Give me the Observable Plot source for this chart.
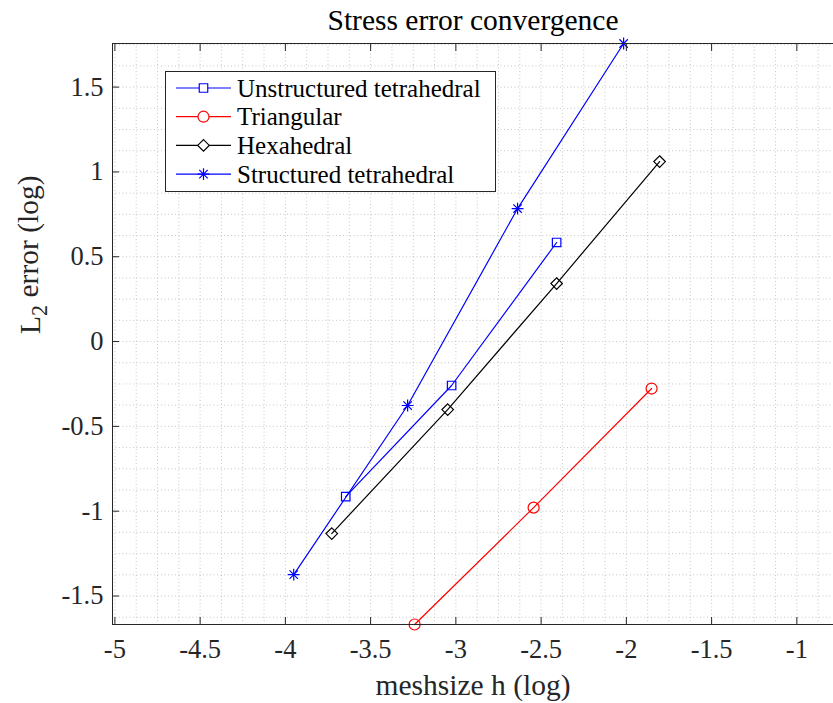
<!DOCTYPE html>
<html><head><meta charset="utf-8">
<script src="https://cdn.jsdelivr.net/npm/d3@7"></script>
<script src="https://cdn.jsdelivr.net/npm/@observablehq/plot@0.6"></script>
<style>body{margin:0;background:#fff} #chart{width:833px;height:703px}</style>
</head><body><div id="chart"></div>
<script>
// ---- data ----
const seriesNames = ["Unstructured tetrahedral", "Triangular", "Hexahedral", "Structured tetrahedral"];
const unstructuredX = [-3.646, -3.025, -2.409];
const unstructuredY = [-0.914, -0.259, 0.584];
const triangularX = [-3.242, -2.544, -1.852];
const triangularY = [-1.668, -0.979, -0.277];
const hexahedralX = [-3.728, -3.048, -2.409, -1.805];
const hexahedralY = [-1.132, -0.401, 0.342, 1.061];
const structuredX = [-3.951, -3.283, -2.638, -2.016];
const structuredY = [-1.374, -0.377, 0.784, 1.757];
const xTicks = [-5, -4.5, -4, -3.5, -3, -2.5, -2, -1.5, -1];
const yTicks = [-1.5, -1, -0.5, 0, 0.5, 1, 1.5];
const titleText = "Stress error convergence";
const xLabelText = "meshsize h (log)";
const yLabelText = "L₂ error (log)";

// ---- styles ----
const styles = [
  {color: "#0000ff", symbols: ["square2"], r: 5.4},
  {color: "#ff0000", symbols: ["circle"], r: 5.5},
  {color: "#000000", symbols: ["diamond2"], r: 5.2},
  {color: "#0000ff", symbols: ["plus", "times"], r: 3.9}
];
const xs = [unstructuredX, triangularX, hexahedralX, structuredX];
const ys = [unstructuredY, triangularY, hexahedralY, structuredY];
const series = seriesNames.map((name, i) => xs[i].map((x, j) => ({name, x, y: ys[i][j]})));
const all = series.flat();

const xDomain = [-5.014, -0.785];
const yDomain = d3.extent(all, d => d.y);
const xMinor = d3.range(-5, -0.78, 0.125);
const yMinor = d3.range(-1.625, 1.76, 0.125);
const fmt = d => String(d);
const font = "Liberation Serif";
const axisColor = "#262626";

const marks = [
  Plot.gridX(xMinor, {stroke: "#9a9a9a", strokeOpacity: 0.55, strokeDasharray: "1,2.5"}),
  Plot.gridY(yMinor, {stroke: "#9a9a9a", strokeOpacity: 0.55, strokeDasharray: "1,2.5"})
];
series.forEach((s, i) => {
  marks.push(Plot.line(s, {x: "x", y: "y", stroke: styles[i].color, strokeWidth: 1.2}));
  styles[i].symbols.forEach(sym => {
    marks.push(Plot.dot(s, {x: "x", y: "y", stroke: styles[i].color, symbol: () => sym, r: styles[i].r, strokeWidth: 1.2, fill: "none"}));
  });
});
marks.push(
  Plot.frame({anchor: "top", stroke: axisColor}),
  Plot.frame({anchor: "bottom", stroke: axisColor}),
  Plot.frame({anchor: "left", stroke: axisColor}),
  Plot.axisX({anchor: "bottom", ticks: xTicks, tickFormat: fmt, tickSize: -7, tickPadding: 22, fontSize: 26.5, stroke: axisColor, fill: axisColor, label: null}),
  Plot.axisX({anchor: "top", ticks: xTicks, tickFormat: () => "", tickSize: -7, stroke: axisColor, label: null}),
  Plot.axisY({anchor: "left", ticks: yTicks, tickFormat: fmt, tickSize: -7, tickPadding: 16, fontSize: 26.5, stroke: axisColor, fill: axisColor, label: null}),
  Plot.text([titleText], {frameAnchor: "top", lineAnchor: "middle", dy: -23, fontSize: 29.5, fill: "#000"}),
  Plot.text([xLabelText], {frameAnchor: "bottom", lineAnchor: "middle", dy: 61, fontSize: 29.5, fill: axisColor}),
  Plot.text([yLabelText], {frameAnchor: "left", dx: -82, rotate: -90, fontSize: 29.5, fill: axisColor})
);

const chart = Plot.plot({
  width: 833, height: 703,
  marginLeft: 112, marginRight: 0, marginTop: 43, marginBottom: 79,
  style: {fontFamily: font, fontSize: "26px", background: "#fff", color: axisColor},
  x: {domain: xDomain, axis: null},
  y: {domain: yDomain, axis: null},
  marks
});
document.getElementById("chart").appendChild(chart);

// subscript in the y label
const svg = d3.select(chart);
svg.selectAll("text").filter(function() { return this.textContent === yLabelText; }).each(function() {
  const t = d3.select(this);
  t.text(null);
  t.append("tspan").text("L");
  t.append("tspan").attr("dy", "0.3em").attr("font-size", "0.75em").text("2");
  t.append("tspan").attr("dy", "-0.3em").text(" error (log)");
});

// legend
const lg = svg.append("g").attr("font-family", font).attr("font-size", 25).attr("text-anchor", "start");
lg.append("rect").attr("x", 165.5).attr("y", 71.5).attr("width", 330).attr("height", 120)
  .attr("fill", "#fff").attr("stroke", axisColor).attr("stroke-width", 1);
const symMap = {square2: d3.symbolSquare2, circle: d3.symbolCircle, diamond2: d3.symbolDiamond2, plus: d3.symbolPlus, times: d3.symbolTimes};
seriesNames.forEach((name, i) => {
  const yy = 88 + i * 28.7;
  const st = styles[i];
  lg.append("line").attr("x1", 176).attr("x2", 231).attr("y1", yy).attr("y2", yy)
    .attr("stroke", st.color).attr("stroke-width", 1.2);
  st.symbols.forEach(sym => {
    lg.append("path").attr("d", d3.symbol(symMap[sym], Math.PI * st.r * st.r)())
      .attr("transform", `translate(203.5,${yy})`).attr("fill", "#fff")
      .attr("stroke", st.color).attr("stroke-width", 1.2);
  });
  lg.append("text").attr("x", 237).attr("y", yy).attr("dy", "0.35em").attr("text-anchor", "start").attr("fill", "#000").text(name);
});
</script>
</body></html>
